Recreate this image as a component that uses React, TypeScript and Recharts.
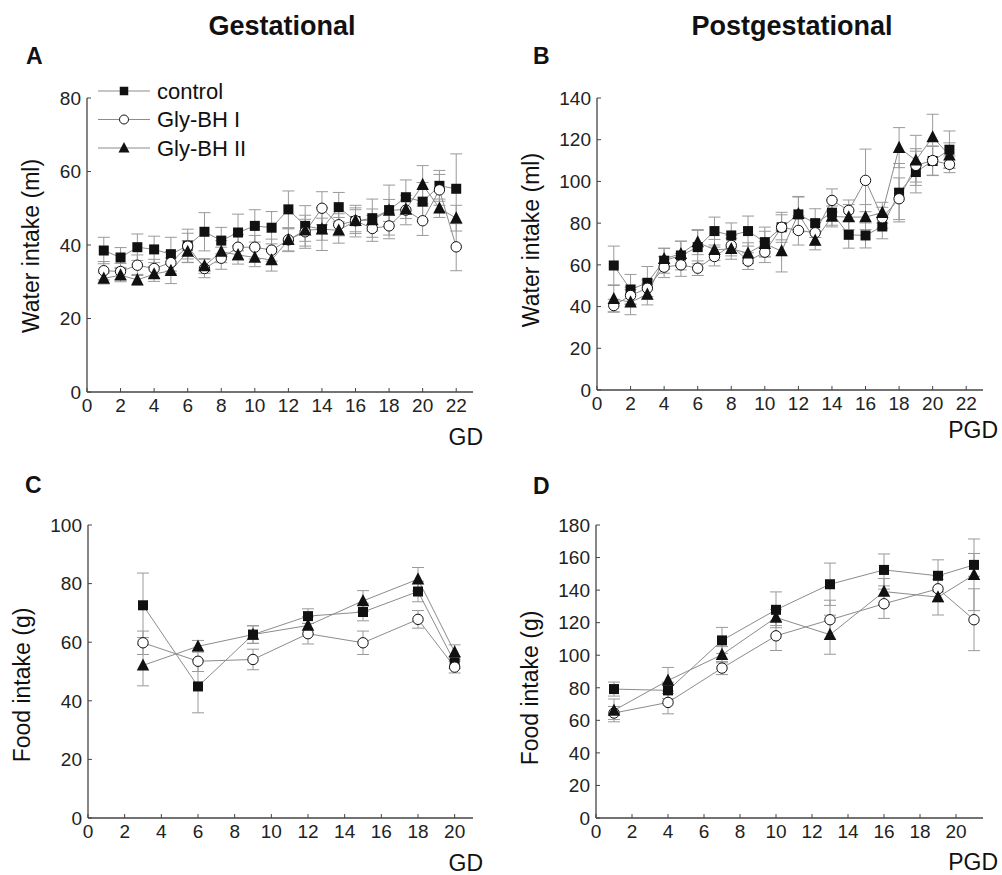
import React from "react"
import { LineChart, Line, XAxis, YAxis, ErrorBar, Legend } from "recharts"

// A: water intake, gestational days
const gdDays = [1, 2, 3, 4, 5, 6, 7, 8, 9, 10, 11, 12, 13, 14, 15, 16, 17, 18, 19, 20, 21, 22]
const waterGdControl = [38.5, 36.6, 39.4, 38.8, 37.5, 39.8, 43.6, 41.2, 43.4, 45.2, 44.7, 49.7, 45.2, 44.3, 50.3, 46.5, 47.3, 49.5, 53.0, 51.8, 56.1, 55.3]
const waterGdControlErr = [3.6, 2.7, 3.6, 3.6, 4.6, 4.5, 5.2, 3.6, 5.0, 4.4, 4.4, 5.0, 5.5, 5.8, 4.0, 4.3, 5.2, 6.8, 4.7, 5.2, 4.2, 9.5]
const waterGdBH1 = [33.0, 32.8, 34.5, 33.6, 35.2, 39.7, 33.6, 36.4, 39.4, 39.4, 38.6, 41.4, 43.6, 50.0, 45.5, 46.6, 44.5, 45.2, 49.5, 46.6, 55.0, 39.5]
const waterGdBH1Err = [2.5, 2.2, 2.8, 2.5, 3.0, 3.5, 2.5, 3.0, 3.5, 3.2, 3.0, 3.2, 4.5, 4.5, 3.0, 3.5, 3.5, 3.5, 4.0, 4.0, 4.2, 6.5]
const waterGdBH2 = [30.9, 31.8, 30.5, 32.1, 33.0, 38.2, 34.3, 38.2, 37.3, 36.6, 35.9, 41.4, 44.0, 44.3, 44.0, 46.6, 46.8, 49.4, 49.7, 56.4, 50.0, 47.3]
const waterGdBH2Err = [1.5, 1.8, 1.5, 2.0, 3.5, 3.0, 2.0, 3.0, 2.5, 2.5, 3.0, 3.0, 3.0, 3.0, 3.5, 3.0, 3.0, 3.0, 2.5, 5.2, 2.5, 3.5]

// B: water intake, postgestational days
const pgdDays = [1, 2, 3, 4, 5, 6, 7, 8, 9, 10, 11, 12, 13, 14, 15, 16, 17, 18, 19, 20, 21]
const waterPgdControl = [59.7, 48.2, 51.4, 62.0, 64.5, 68.5, 76.2, 74.1, 76.2, 70.9, 78.0, 84.2, 80.0, 85.0, 74.4, 74.1, 78.4, 94.6, 104.5, 109.8, 115.2]
const waterPgdControlErr = [9.3, 7.2, 7.8, 6.0, 6.9, 8.0, 6.7, 6.0, 7.2, 7.2, 7.2, 8.6, 6.9, 6.0, 6.4, 6.0, 5.9, 14.0, 10.0, 7.0, 9.0]
const waterPgdBH1 = [40.5, 45.3, 48.8, 58.9, 60.0, 58.4, 64.0, 69.3, 61.8, 66.1, 78.0, 76.5, 75.4, 90.9, 86.1, 100.5, 82.6, 91.7, 107.7, 110.0, 108.2]
const waterPgdBH1Err = [3.0, 4.0, 4.0, 5.0, 5.5, 3.5, 4.5, 5.0, 4.0, 5.0, 6.0, 7.0, 6.0, 5.5, 5.0, 15.0, 5.0, 10.0, 8.0, 7.0, 4.0]
const waterPgdBH2 = [43.7, 42.1, 45.8, 62.9, 65.3, 70.9, 67.2, 67.7, 65.6, 70.1, 66.6, 84.5, 71.7, 83.2, 82.9, 82.9, 85.0, 116.2, 110.1, 121.3, 112.5]
const waterPgdBH2Err = [6.4, 6.0, 5.0, 5.0, 6.0, 6.0, 5.0, 5.0, 5.0, 6.0, 10.0, 8.0, 4.5, 5.0, 6.0, 6.0, 5.0, 9.6, 12.0, 10.9, 6.0]

// C: food intake, gestational days
const foodGdDays = [3, 6, 9, 12, 15, 18, 20]
const foodGdControl = [72.6, 44.9, 62.6, 68.9, 70.3, 77.3, 53.1]
const foodGdControlErr = [11, 9, 3, 2.5, 3, 3.5, 2]
const foodGdBH1 = [59.8, 53.5, 54.1, 62.9, 59.8, 67.8, 51.5]
const foodGdBH1Err = [4, 3.5, 3.5, 3.5, 4, 3, 2]
const foodGdBH2 = [52.1, 58.6, 62.6, 65.7, 74.1, 81.5, 56.6]
const foodGdBH2Err = [7, 2, 3, 3, 3.5, 4, 2.5]

// D: food intake, postgestational days
const foodPgdDays = [1, 4, 7, 10, 13, 16, 19, 21]
const foodPgdControl = [79.2, 78.4, 109.1, 127.9, 143.6, 152.4, 148.8, 155.5]
const foodPgdControlErr = [4.3, 5, 8, 11, 13, 9.8, 9.8, 7]
const foodPgdBH1 = [64.5, 71.0, 92.1, 111.9, 121.8, 131.6, 140.8, 121.8]
const foodPgdBH1Err = [4, 7, 4, 9, 12, 9, 8, 19]
const foodPgdBH2 = [66.1, 84.5, 100.3, 123.2, 112.6, 139.1, 135.7, 149.4]
const foodPgdBH2Err = [7, 8, 5, 5, 12, 8, 11, 22]

const seriesNames = ["control", "Gly-BH I", "Gly-BH II"]
const xTicksWater = [0, 2, 4, 6, 8, 10, 12, 14, 16, 18, 20, 22]
const xTicksFood = [0, 2, 4, 6, 8, 10, 12, 14, 16, 18, 20]

const FONT = "'Liberation Sans', Arial, Helvetica, sans-serif"
const LINE = "#8c8c8c"
const ERR = "#9a9a9a"
const INK = "#111"

const build = (days, c, ce, g1, g1e, g2, g2e) =>
  days.map((d, i) => ({ day: d, c: c[i], ce: ce[i], g1: g1[i], g1e: g1e[i], g2: g2[i], g2e: g2e[i] }))

const Square = ({ cx, cy, s = 10 }) => <rect x={cx - s / 2} y={cy - s / 2} width={s} height={s} fill={INK} />
const Circle = ({ cx, cy, r = 5.2 }) => <circle cx={cx} cy={cy} r={r} fill="#fff" stroke={INK} strokeWidth={1} />
const Triangle = ({ cx, cy, s = 12.5 }) => (
  <polygon points={`${cx},${cy - s * 0.55} ${cx - s / 2},${cy + s * 0.42} ${cx + s / 2},${cy + s * 0.42}`} fill={INK} />
)
const markers = [Square, Circle, Triangle]

const dotFor = (M) => (p) => {
  if (p.cx == null || p.cy == null) return <g key={`e-${p.index}`} />
  return <M key={`m-${p.index}`} cx={p.cx} cy={p.cy} />
}

function LegendBox() {
  return (
    <svg width={190} height={90} style={{ overflow: "visible" }}>
      {seriesNames.map((name, i) => {
        const y = 16 + i * 28.5
        const M = markers[i]
        return (
          <g key={name}>
            <line x1={3} x2={55} y1={y} y2={y} stroke={LINE} strokeWidth={1} />
            <M cx={29} cy={y} s={i === 2 ? 11 : 8.5} r={4.5} />
            <text x={62} y={y} dominantBaseline="central" fontSize={22} fontFamily={FONT} fill={INK}>
              {name}
            </text>
          </g>
        )
      })}
    </svg>
  )
}

function Panel({ left, top, width, height, margin, yWidth, data, xMax, xTicks, yMax, yTicks, legend }) {
  const tickStyle = { fontSize: 19, fontFamily: FONT, fill: "#222" }
  const axisLine = { stroke: "#444", strokeWidth: 1.3 }
  return (
    <div style={{ position: "absolute", left, top }}>
      <LineChart width={width} height={height} data={data} margin={margin}>
        <XAxis
          dataKey="day"
          type="number"
          domain={[0, xMax]}
          ticks={xTicks}
          interval={0}
          height={30}
          tick={tickStyle}
          tickSize={-4}
          tickMargin={11}
          axisLine={axisLine}
          tickLine={{ stroke: "#444" }}
        />
        <YAxis
          type="number"
          domain={[0, yMax]}
          ticks={yTicks}
          interval={0}
          width={yWidth}
          tick={tickStyle}
          tickSize={-4}
          tickMargin={10}
          axisLine={axisLine}
          tickLine={{ stroke: "#444" }}
        />
        {legend && (
          <Legend
            layout="vertical"
            align="center"
            verticalAlign="middle"
            wrapperStyle={{ left: 95, top: 75, width: 190, height: 90 }}
            content={() => <LegendBox />}
          />
        )}
        {["c", "g1", "g2"].map((k, i) => (
          <Line
            key={k}
            dataKey={k}
            name={seriesNames[i]}
            type="linear"
            stroke={LINE}
            strokeWidth={1}
            dot={dotFor(markers[i])}
            activeDot={false}
            isAnimationActive={false}
          >
            <ErrorBar dataKey={`${k}e`} direction="y" width={6} stroke={ERR} strokeWidth={1} />
          </Line>
        ))}
      </LineChart>
    </div>
  )
}

export default function App() {
  const dataA = build(gdDays, waterGdControl, waterGdControlErr, waterGdBH1, waterGdBH1Err, waterGdBH2, waterGdBH2Err)
  const dataB = build(pgdDays, waterPgdControl, waterPgdControlErr, waterPgdBH1, waterPgdBH1Err, waterPgdBH2, waterPgdBH2Err)
  const dataC = build(foodGdDays, foodGdControl, foodGdControlErr, foodGdBH1, foodGdBH1Err, foodGdBH2, foodGdBH2Err)
  const dataD = build(foodPgdDays, foodPgdControl, foodPgdControlErr, foodPgdBH1, foodPgdBH1Err, foodPgdBH2, foodPgdBH2Err)

  const t = { fontFamily: FONT, fill: INK }
  return (
    <div style={{ position: "absolute", left: 0, top: 0, width: 1002, height: 875, background: "#fff" }}>
      <Panel left={0} top={0} width={500} height={460} margin={{ top: 98, right: 27, bottom: 38, left: 0 }} yWidth={87}
        data={dataA} xMax={23} xTicks={xTicksWater} yMax={80} yTicks={[0, 20, 40, 60, 80]} legend />
      <Panel left={500} top={0} width={500} height={460} margin={{ top: 98, right: 17, bottom: 40, left: 0 }} yWidth={97}
        data={dataB} xMax={23} xTicks={xTicksWater} yMax={140} yTicks={[0, 20, 40, 60, 80, 100, 120, 140]} />
      <Panel left={0} top={440} width={500} height={435} margin={{ top: 85, right: 27, bottom: 27, left: 0 }} yWidth={88}
        data={dataC} xMax={21} xTicks={xTicksFood} yMax={100} yTicks={[0, 20, 40, 60, 80, 100]} />
      <Panel left={500} top={440} width={500} height={435} margin={{ top: 85, right: 17, bottom: 27, left: 0 }} yWidth={96}
        data={dataD} xMax={21.5} xTicks={xTicksFood} yMax={180} yTicks={[0, 20, 40, 60, 80, 100, 120, 140, 160, 180]} />

      <svg width={1002} height={875} style={{ position: "absolute", left: 0, top: 0, pointerEvents: "none" }}>
        <text x={282} y={35} textAnchor="middle" fontSize={27} fontWeight="bold" {...t}>Gestational</text>
        <text x={792} y={35} textAnchor="middle" fontSize={27} fontWeight="bold" {...t}>Postgestational</text>
        <text x={26} y={64} fontSize={23} fontWeight="bold" {...t}>A</text>
        <text x={533} y={64} fontSize={23} fontWeight="bold" {...t}>B</text>
        <text x={25} y={493} fontSize={23} fontWeight="bold" {...t}>C</text>
        <text x={533} y={494} fontSize={23} fontWeight="bold" {...t}>D</text>
        <text x={31} y={246} textAnchor="middle" dominantBaseline="central" fontSize={23} transform="rotate(-90 31 246)" {...t}>Water intake (ml)</text>
        <text x={531} y={240} textAnchor="middle" dominantBaseline="central" fontSize={23} transform="rotate(-90 531 240)" {...t}>Water intake (ml)</text>
        <text x={22} y={685} textAnchor="middle" dominantBaseline="central" fontSize={23} transform="rotate(-90 22 685)" {...t}>Food intake (g)</text>
        <text x={530} y={688} textAnchor="middle" dominantBaseline="central" fontSize={23} transform="rotate(-90 530 688)" {...t}>Food intake (g)</text>
        <text x={483} y={445} textAnchor="end" fontSize={23} {...t}>GD</text>
        <text x={998} y={438} textAnchor="end" fontSize={23} {...t}>PGD</text>
        <text x={483} y={871} textAnchor="end" fontSize={23} {...t}>GD</text>
        <text x={998} y={870} textAnchor="end" fontSize={23} {...t}>PGD</text>
      </svg>
    </div>
  )
}
